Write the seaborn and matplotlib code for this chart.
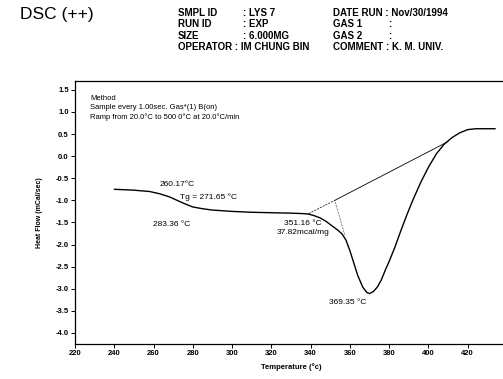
import matplotlib
matplotlib.use("Agg")
import matplotlib.pyplot as plt
import seaborn as sns
import pandas as pd

# ---- data ----
temperature = [240, 250, 258, 263, 268, 272, 276, 280, 285, 290, 300, 310, 320, 330,
               336, 339, 342, 345, 348, 351, 354, 356, 358, 360, 362, 364, 366.5,
               368.5, 370, 372, 374, 376, 378, 380, 383, 386, 389, 392, 396, 400,
               404, 408, 412, 416, 420, 424, 430, 434]
heat_flow = [-0.75, -0.77, -0.80, -0.85, -0.92, -1.00, -1.08, -1.15, -1.19, -1.22,
             -1.25, -1.27, -1.28, -1.29, -1.30, -1.31, -1.35, -1.40, -1.48, -1.58,
             -1.68, -1.76, -1.90, -2.14, -2.42, -2.70, -2.96, -3.08, -3.11, -3.06,
             -2.96, -2.80, -2.58, -2.38, -2.05, -1.68, -1.33, -1.00, -0.60, -0.25,
             0.05, 0.27, 0.42, 0.53, 0.60, 0.62, 0.62, 0.62]

baseline_t = [339, 352.3, 410]
baseline_hf = [-1.30, -1.00, 0.33]
drop_t = [352.3, 357.5]
drop_hf = [-1.00, -1.80]

x_ticks = [220, 240, 260, 280, 300, 320, 340, 360, 380, 400, 420]
y_ticks = [1.5, 1.0, 0.5, 0.0, -0.5, -1.0, -1.5, -2.0, -2.5, -3.0, -3.5, -4.0]

header_col1 = ["SMPL ID", "RUN ID", "SIZE", "OPERATOR : IM CHUNG BIN"]
header_val1 = [": LYS 7", ": EXP", ": 6.000MG", None]
header_col2 = ["DATE RUN : Nov/30/1994", "GAS 1", "GAS 2", "COMMENT : K. M. UNIV."]
header_val2 = [None, ":", ":", None]
method_lines = ["Method",
                "Sample every 1.00sec. Gas*(1) B(on)",
                "Ramp from 20.0°C to 500 0°C at 20.0°C/min"]

sns.set_style("ticks")
plt.rcParams['font.family'] = ['Liberation Sans', 'DejaVu Sans']
plt.rcParams.update({"text.color": "black", "axes.labelcolor": "black",
                     "xtick.color": "black", "ytick.color": "black"})

W, H = 503, 379
fig = plt.figure(figsize=(W / 100, H / 100), dpi=100)
ax = fig.add_axes([75 / W, 1 - 344 / H, 432 / W, 263 / H])

df = pd.DataFrame({"T": temperature, "HF": heat_flow})
sns.lineplot(data=df, x="T", y="HF", ax=ax, color="black", linewidth=1.0,
             sort=False, estimator=None)

# tangent/baseline construction
ax.plot(baseline_t[:2], baseline_hf[:2], color="black", linewidth=0.5,
        linestyle=(0, (3, 1.5)))
ax.plot(baseline_t[1:], baseline_hf[1:], color="black", linewidth=0.6)
ax.plot(drop_t, drop_hf, color="black", linewidth=0.5, linestyle=(0, (1, 1.2)))

ax.set_xlim(220, 440)
ax.set_ylim(-4.25, 1.70)
ax.set_xticks(x_ticks)
ax.set_yticks(y_ticks)
ax.set_xticklabels([str(t) for t in x_ticks], fontsize=5.5, fontweight="bold")
ax.set_yticklabels([f"{v:.1f}" for v in y_ticks], fontsize=5.5, fontweight="bold")
ax.tick_params(axis="both", length=3, width=0.7, pad=1.5, colors="black")
for s in ax.spines.values():
    s.set_linewidth(0.9)
    s.set_color("black")

ax.set_xlabel("Temperature (°c)", fontsize=5.5, fontweight="bold", labelpad=4)
ax.set_ylabel("Heat Flow (mCal/sec)", fontsize=5, fontweight="bold", labelpad=9)

# annotations
fs = 6
ax.text(263.3, -0.64, "260.17°C", fontsize=fs, ha="left", va="center")
ax.text(273.4, -0.93, "Tg = 271.65 °C", fontsize=fs, ha="left", va="center")
ax.text(259.7, -1.55, "283.36 °C", fontsize=fs, ha="left", va="center")
ax.text(345.7, -1.52, "351.16 °C", fontsize=fs, ha="right", va="center")
ax.text(349.8, -1.73, "37.82mcal/mg", fontsize=fs, ha="right", va="center")
ax.text(368.6, -3.30, "369.35 °C", fontsize=fs, ha="right", va="center")

for line, y in zip(method_lines, [1.30, 1.09, 0.89]):
    ax.text(227.6, y, line, fontsize=5.5, ha="left", va="center")

# header
fig.text(20 / W, 1 - 15 / H, "DSC (++)", fontsize=12.5, ha="left", va="center")
hfam = ['Liberation Sans Narrow', 'Liberation Sans', 'DejaVu Sans']
hkw = dict(fontsize=7, fontweight="bold", family=hfam, ha="left", va="center")
row_y = [13, 24, 36, 47]
for c1, v1, c2, v2, y in zip(header_col1, header_val1, header_col2, header_val2, row_y):
    yy = 1 - y / H
    fig.text(178 / W, yy, c1, **hkw)
    if v1:
        fig.text(243 / W, yy, v1, **hkw)
    fig.text(333 / W, yy, c2, **hkw)
    if v2:
        fig.text(388 / W, yy, v2, **hkw)

fig.savefig("out.png", dpi=100)
